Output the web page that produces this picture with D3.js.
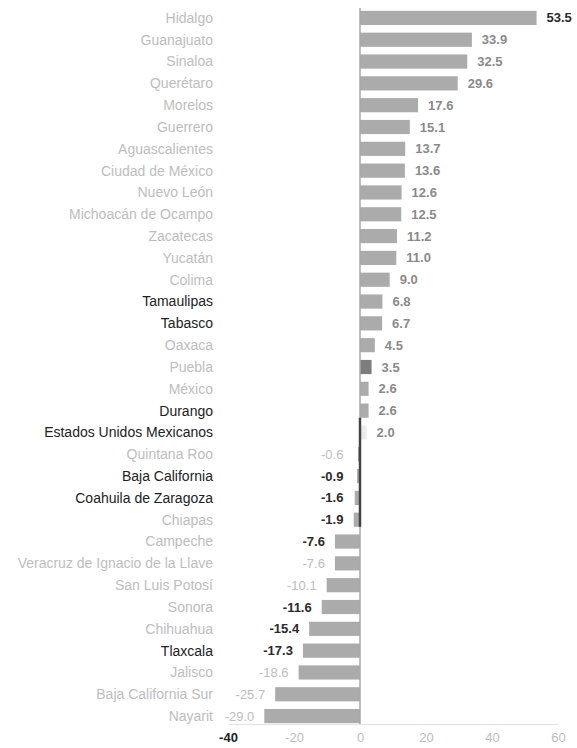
<!DOCTYPE html>
<html>
<head>
<meta charset="utf-8">
<script src="https://cdn.jsdelivr.net/npm/d3@7"></script>
<style>
  html, body { margin: 0; padding: 0; background: #fff; }
  svg { display: block; font-family: "Liberation Sans", Arial, sans-serif; }
</style>
</head>
<body>
<svg id="chart" width="577" height="748"></svg>
<script>
const states = [
  "Hidalgo", "Guanajuato", "Sinaloa", "Querétaro", "Morelos", "Guerrero",
  "Aguascalientes", "Ciudad de México", "Nuevo León", "Michoacán de Ocampo",
  "Zacatecas", "Yucatán", "Colima", "Tamaulipas", "Tabasco", "Oaxaca",
  "Puebla", "México", "Durango", "Estados Unidos Mexicanos", "Quintana Roo",
  "Baja California", "Coahuila de Zaragoza", "Chiapas", "Campeche",
  "Veracruz de Ignacio de la Llave", "San Luis Potosí", "Sonora", "Chihuahua",
  "Tlaxcala", "Jalisco", "Baja California Sur", "Nayarit"
];
const values = [
  53.5, 33.9, 32.5, 29.6, 17.6, 15.1,
  13.7, 13.6, 12.6, 12.5,
  11.2, 11.0, 9.0, 6.8, 6.7, 4.5,
  3.5, 2.6, 2.6, 2.0, -0.6,
  -0.9, -1.6, -1.9, -7.6,
  -7.6, -10.1, -11.6, -15.4,
  -17.3, -18.6, -25.7, -29.0
];
const xTicks = [-40, -20, 0, 20, 40, 60];

// styling lists (appearance of the scanned reference)
const darkNames = ["Tamaulipas", "Tabasco", "Durango", "Estados Unidos Mexicanos",
  "Baja California", "Coahuila de Zaragoza", "Tlaxcala"];
const darkValueNames = ["Hidalgo", "Baja California", "Coahuila de Zaragoza", "Chiapas",
  "Campeche", "Sonora", "Chihuahua", "Tlaxcala"];
const lightValueNames = ["Quintana Roo", "Veracruz de Ignacio de la Llave", "San Luis Potosí",
  "Jalisco", "Baja California Sur", "Nayarit"];

const data = states.map((s, i) => ({ name: s, value: values[i] }));

const svg = d3.select("#chart");

const x = d3.scaleLinear().domain([-40, 60]).range([228, 558]);
const y = d3.scaleBand().domain(states).range([7, 727])
  .paddingInner(0.35).paddingOuter(0.175);

// bars
svg.append("g").selectAll("rect").data(data).join("rect")
  .attr("x", d => x(Math.min(0, d.value)))
  .attr("y", d => y(d.name))
  .attr("width", d => Math.abs(x(d.value) - x(0)))
  .attr("height", y.bandwidth())
  .attr("fill", d => d.name === "Puebla" ? "#7d7d7d"
                 : d.name === "Estados Unidos Mexicanos" ? "#ececec" : "#ababab");

// zero line
svg.append("line")
  .attr("x1", x(0)).attr("x2", x(0))
  .attr("y1", 8).attr("y2", 724)
  .attr("stroke", "#a8a8a8").attr("stroke-width", 1.5);
svg.append("line")
  .attr("x1", x(0)).attr("x2", x(0))
  .attr("y1", y("Durango") + y.bandwidth()).attr("y2", y("Chiapas") + y.bandwidth())
  .attr("stroke", "#444").attr("stroke-width", 2.5);

// category labels
svg.append("g").selectAll("text").data(data).join("text")
  .attr("x", 213)
  .attr("y", d => y(d.name) + y.bandwidth() / 2)
  .attr("dy", "0.35em")
  .attr("text-anchor", "end")
  .attr("font-size", 14)
  .attr("fill", d => darkNames.includes(d.name) ? "#222" : "#bdbdbd")
  .text(d => d.name);

// value labels (hyphen minus as in the reference)
const fmt = v => d3.format(".1f")(v).replace("\u2212", "-");
svg.append("g").selectAll("text").data(data).join("text")
  .attr("x", d => d.value >= 0 ? x(d.value) + 10 : Math.min(x(d.value), x(-2)) - 10)
  .attr("y", d => y(d.name) + y.bandwidth() / 2)
  .attr("dy", "0.35em")
  .attr("text-anchor", d => d.value >= 0 ? "start" : "end")
  .attr("font-size", 13)
  .attr("font-weight", d => lightValueNames.includes(d.name) ? "normal" : "bold")
  .attr("fill", d => darkValueNames.includes(d.name) ? "#2a2a2a"
                 : lightValueNames.includes(d.name) ? "#bdbdbd" : "#8a8a8a")
  .text(d => fmt(d.value));

// x axis
const axis = d3.axisBottom(x).tickValues(xTicks).tickSize(0).tickPadding(9)
  .tickFormat(d => String(d));
const gx = svg.append("g").attr("transform", "translate(0,724)").call(axis);
gx.select(".domain").attr("stroke", "#e2e2e2");
gx.selectAll("text")
  .attr("font-size", 13)
  .attr("font-family", "Liberation Sans, Arial, sans-serif")
  .attr("fill", d => d === -40 ? "#222" : "#bdbdbd")
  .attr("font-weight", d => d === -40 ? "bold" : "normal");
</script>
</body>
</html>
